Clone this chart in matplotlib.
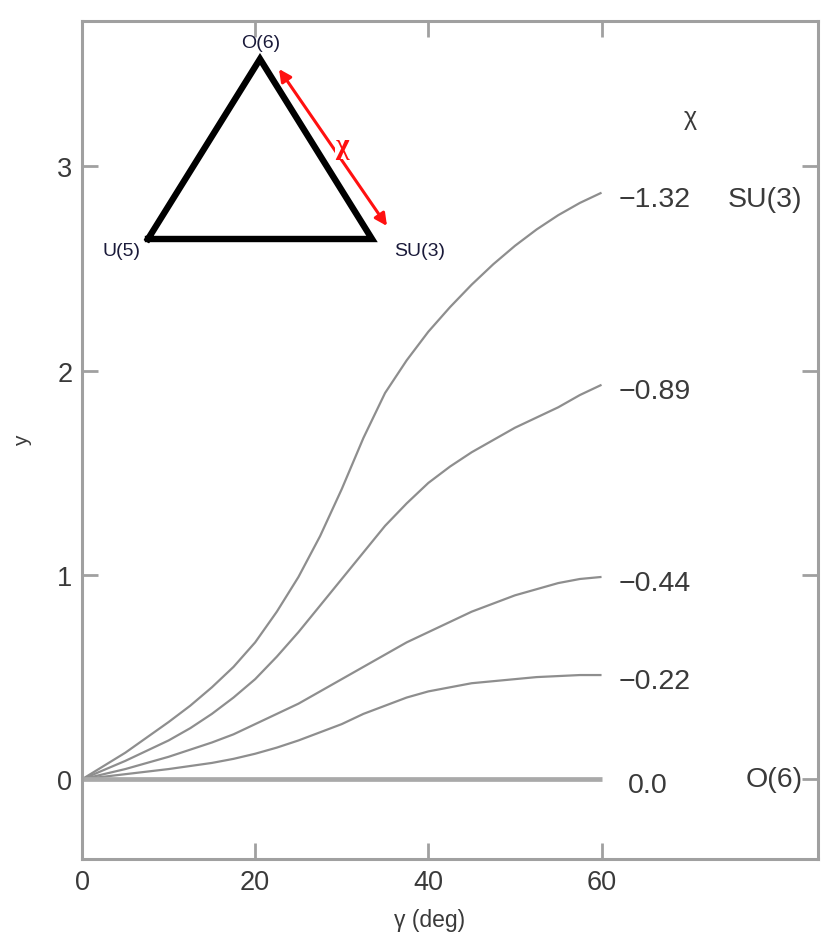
import matplotlib
matplotlib.use("Agg")
import matplotlib.pyplot as plt

# ---------------- data ----------------
gamma = [0, 5, 10, 12.5, 15, 17.5, 20, 22.5, 25, 27.5, 30, 32.5, 35, 37.5, 40,
         42.5, 45, 47.5, 50, 52.5, 55, 57.5, 60]
chi_labels = ["\u22121.32", "\u22120.89", "\u22120.44", "\u22120.22", "0.0"]
y_m132 = [0, 0.13, 0.28, 0.36, 0.45, 0.55, 0.67, 0.82, 0.99, 1.19, 1.42, 1.67, 1.89,
          2.05, 2.19, 2.31, 2.42, 2.52, 2.61, 2.69, 2.76, 2.82, 2.87]
y_m089 = [0, 0.09, 0.19, 0.25, 0.32, 0.40, 0.49, 0.60, 0.72, 0.85, 0.98, 1.11, 1.24,
          1.35, 1.45, 1.53, 1.60, 1.66, 1.72, 1.77, 1.82, 1.88, 1.93]
y_m044 = [0, 0.05, 0.11, 0.145, 0.18, 0.22, 0.27, 0.32, 0.37, 0.43, 0.49, 0.55, 0.61,
          0.67, 0.72, 0.77, 0.82, 0.86, 0.90, 0.93, 0.96, 0.98, 0.99]
y_m022 = [0, 0.025, 0.05, 0.065, 0.08, 0.10, 0.125, 0.155, 0.19, 0.23, 0.27, 0.32, 0.36,
          0.40, 0.43, 0.45, 0.47, 0.48, 0.49, 0.50, 0.505, 0.51, 0.51]
y_zero = [0] * len(gamma)
xticks = [0, 20, 40, 60]
yticks = [0, 1, 2, 3]

plt.rcParams['font.family'] = ['Liberation Sans', 'DejaVu Sans']

fig = plt.figure(figsize=(8.31, 9.37), dpi=100)
ax = fig.add_axes([82 / 831, 1 - 860 / 937, (818 - 82) / 831, (860 - 22) / 937])

curve_color = '#8e8e8e'
for ys in [y_m132, y_m089, y_m044, y_m022]:
    ax.plot(gamma, ys, color=curve_color, lw=1.6, solid_capstyle='butt',
            solid_joinstyle='round')
ax.plot(gamma, y_zero, color='#a9a9a9', lw=3.4, solid_capstyle='butt')

ax.set_xlim(0, 85)
ax.set_ylim(-0.39, 3.71)
ax.set_xticks(xticks)
ax.set_yticks(yticks)
ax.tick_params(direction='in', length=11.5, width=2, color='#a0a0a0',
               labelsize=19.5, labelcolor='#3a3a3a', top=True, right=True,
               labeltop=False, labelright=False, pad=7)
for s in ax.spines.values():
    s.set_color('#a0a0a0')
    s.set_linewidth(2.2)

ax.set_xlabel('\u03b3 (deg)', fontsize=16.5, color='#3a3a3a')
ax.xaxis.set_label_coords(0.472, -0.058)
ax.set_ylabel('y', fontsize=15, color='#3a3a3a')
ax.yaxis.set_label_coords(-0.068, 0.5)

# end labels (chi values)
ends = [y_m132[-1], y_m089[-1], y_m044[-1], y_m022[-1], y_zero[-1]]
for lab, yv in zip(chi_labels, ends):
    xpos = 63.0 if lab == "0.0" else 62.0
    ax.text(xpos, yv - 0.03, lab, fontsize=20.5, color='#3a3a3a', ha='left', va='center')
ax.text(70.2, 3.24, '\u03c7', fontsize=18, color='#3a3a3a', ha='center', va='center')
ax.text(83.2, ends[0] - 0.03, 'SU(3)', fontsize=20.5, color='#3a3a3a', ha='right', va='center')
ax.text(83.2, 0.0, 'O(6)', fontsize=20.5, color='#3a3a3a', ha='right', va='center')

# ---------------- inset: Casten triangle ----------------
ov = fig.add_axes([0, 0, 1, 1])
ov.set_xlim(0, 831)
ov.set_ylim(937, 0)
ov.axis('off')
ov.patch.set_alpha(0)
tri_x = [148, 260, 372, 148]
tri_y = [240, 60, 240, 240]
ov.plot(tri_x, tri_y, color='black', lw=4.6, solid_joinstyle='miter')
ov.text(261, 44, 'O(6)', fontsize=14, color='#1a1a3a', ha='center', va='center')
ov.text(121, 251, 'U(5)', fontsize=14, color='#1a1a3a', ha='center', va='center')
ov.text(420, 251, 'SU(3)', fontsize=14, color='#1a1a3a', ha='center', va='center')
ov.annotate('', xy=(279, 70), xytext=(387, 227),
            arrowprops=dict(arrowstyle='<|-|>', color='#ff1010', lw=2.2,
                            mutation_scale=18, shrinkA=0, shrinkB=0))
ov.text(342, 146, '\u03c7', fontsize=21, color='#ff1010', ha='center', va='center',
        fontweight='bold', family=['Liberation Serif', 'DejaVu Serif'],
        bbox=dict(facecolor='white', edgecolor='none', pad=0.5))

fig.savefig('out.png', dpi=100, facecolor='white')
